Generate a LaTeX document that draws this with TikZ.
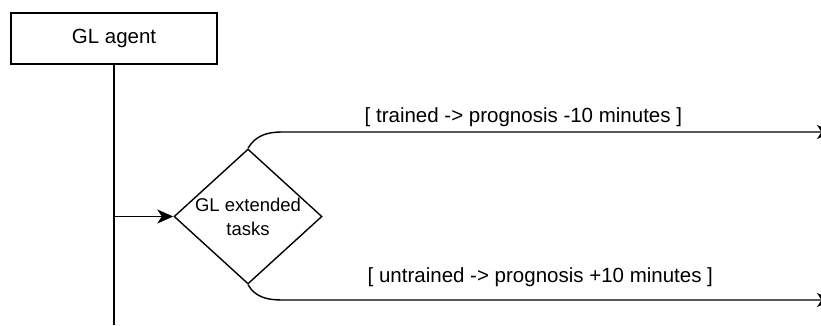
\documentclass[tikz,border=0pt]{standalone}
\usepackage{fontspec}
\setmainfont{Liberation Sans}
\usetikzlibrary{shapes.geometric,arrows.meta}
\begin{document}
\begin{tikzpicture}[x=1pt,y=1pt,
  line width=1.4pt,
  flow/.style={-{Stealth[length=16pt,width=14pt,inset=4.5pt]}},
  bigtext/.style={font=\fontsize{20.5}{24}\selectfont},
  smalltext/.style={font=\fontsize{18.5}{24}\selectfont, align=center},
  guard/.style={bigtext, anchor=base west, inner sep=0pt}]
  \useasboundingbox (0,0) rectangle (821,326);

  % start state
  \node[draw, minimum width=206pt, minimum height=51pt, inner sep=0pt, bigtext]
    (agent) at (114,287.5) {GL agent};

  % decision
  \node[draw, diamond, minimum width=148pt, minimum height=135pt, inner sep=0pt]
    (choice) at (248,109.5) {};
  \node[smalltext] (choicetext) at (choice) {GL extended\\tasks};

  % lifeline of the agent and the branch into the decision
  \coordinate (lifeend) at (114,1);
  \coordinate (fork) at (114,109.5);
  \draw (agent.south) -- (lifeend);
  \draw[flow] (fork) -- (choice.west);

  % outgoing branches
  \coordinate (topend) at (833,194);
  \coordinate (botend) at (833,26);
  \draw[flow] (choice.north) to[out=60,in=180] (282,194) -- (topend);
  \draw[flow] (choice.south) to[out=-60,in=180] (282,26) -- (botend);

  % guards
  \node[guard] (trained) at (364,203) {[ trained -> prognosis -10 minutes ]};
  \node[guard] (untrained) at (367,43) {[ untrained -> prognosis +10 minutes ]};
\end{tikzpicture}
\end{document}
